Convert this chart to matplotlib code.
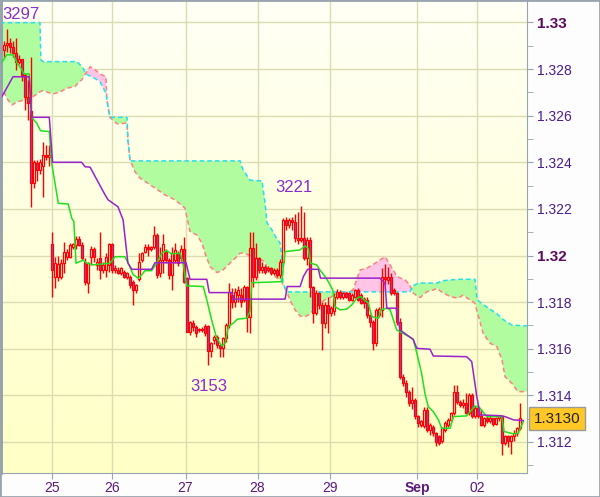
import numpy as np
import matplotlib.pyplot as plt
from matplotlib.colors import LinearSegmentedColormap
from matplotlib.patches import Rectangle

# hourly candles, values in pips above 1.3000
opens = [288.2, 290.3, 291.1, 289.5, 286.8, 283, 284.3, 277.5, 268, 262,
         231, 239.6, 236.7, 238.2, 243.2, 242.4, 205, 190.7, 191, 191,
         196.7, 199.5, 199.5, 203.8, 204.6, 207.1, 204.6, 197.4, 188.1, 199.5,
         202.7, 196, 198.8, 193.8, 193.8, 196, 205, 193.8, 193.8, 192.7,
         193.1, 191, 191, 188.8, 185.2, 189.8, 198.1, 201.7, 203.8, 202.7,
         203.8, 208.8, 192.4, 198.1, 201.7, 198.1, 191.7, 198.1, 201, 198.8,
         202.7, 190.3, 167.4, 171.2, 169.5, 168.4, 168.1, 169.8, 169.8, 159,
         163.8, 165.2, 161.6, 160.2, 164.5, 170.2, 183, 180, 183, 183.1,
         181, 186.7, 173.8, 203.1, 191, 198.8, 193.8, 195.2, 193.8, 194.5,
         192.4, 193.8, 191.7, 197.4, 215.3, 213.1, 215.3, 214.5, 207.4, 206.7,
         207.4, 198.8, 206.5, 186.7, 175.5, 183.8, 178.8, 171, 178.8, 175.2,
         176, 182.4, 184.5, 182.4, 183.8, 183.8, 181, 182.4, 185, 183,
         181.5, 181, 174.5, 171.6, 162.4, 174.5, 176.7, 191, 189.5, 191,
         185, 183.8, 171.6, 148, 145.5, 141.6, 136.8, 138.2, 131, 127.5,
         127, 133.8, 125.2, 126.6, 123.8, 122.4, 120.3, 125.2, 127.3, 129.5,
         132.4, 141.6, 137.3, 135.9, 136.7, 132.4, 140.2, 131, 134.5, 131,
         127.3, 130.2, 128.8, 130.2, 127.8, 130.2, 131, 119.5, 122.4, 120.3,
         122.4, 123.8, 125.9]
highs = [292.2, 297.1, 293.2, 292, 293.2, 286, 284.5, 278.5, 275.3, 285.3,
         241, 241, 241.5, 248.9, 247.4, 247.4, 210, 199.5, 200, 198.5,
         206, 203, 205.3, 205.5, 208.4, 208.4, 206, 198.8, 197.4, 204,
         203.5, 198.8, 210, 197.4, 201, 205.3, 205.3, 196, 195, 195,
         194, 193, 191.5, 189.5, 188, 201, 201.7, 205, 205, 204.3,
         212.7, 209.5, 203.8, 209.3, 203, 199, 203.8, 205.5, 202, 204.6,
         208.1, 191, 172, 172.5, 170, 169, 169.5, 170.5, 170.2, 163,
         166, 166, 162, 165, 171, 188.1, 186, 186, 187, 186,
         187.5, 187, 210.2, 210, 205.3, 199.5, 197.4, 196, 195.5, 195.2,
         194.5, 194.5, 198.5, 216, 216.7, 216, 216.7, 218, 218.8, 221.3,
         218.8, 208, 208, 187, 185, 184.5, 180, 180, 182.4, 178.5,
         183.8, 185.5, 185.2, 184.5, 184.5, 184.5, 184, 185.8, 186, 184,
         182, 182, 175, 172.5, 177.5, 178, 194.5, 196.5, 195, 192.4,
         186, 184.5, 173, 149, 146.5, 142.5, 143.8, 139, 131.5, 129.5,
         135, 135, 128, 127.5, 124.5, 123, 126.5, 128.8, 130.5, 133,
         144.5, 144.5, 138, 138.5, 140.9, 141, 141, 135.5, 135.9, 134,
         130.8, 131, 131, 130.5, 130.8, 131.7, 131.5, 123.1, 123.1, 123.1,
         125.2, 126.6, 136.7]
lows = [285.1, 287.5, 286.8, 285.3, 279.6, 282, 275, 262.5, 258.2, 221,
        229, 232, 235, 225.3, 241, 238.2, 182.4, 186, 189, 190,
        192.4, 198, 198.8, 203, 203, 204, 198, 187.4, 183.8, 196,
        197.4, 193.8, 189.8, 192.4, 191, 193, 192.7, 192.7, 192, 191.5,
        190.5, 190, 186, 178.8, 184, 189, 197.4, 201, 200, 202,
        203, 190.5, 190.7, 192.4, 197, 190, 185.2, 197, 195.5, 197.5,
        188.1, 167, 166, 167.5, 165.2, 167.4, 167, 165.5, 153, 156.6,
        162, 160.5, 156.6, 156.5, 163, 169, 177.4, 178, 180, 178,
        180, 167.4, 166.7, 186.7, 189.5, 192.4, 192.4, 192, 193, 191.7,
        191.7, 191, 190.5, 196.7, 211, 212, 211, 206, 205, 206,
        198, 196, 182.4, 171, 174.5, 177, 159.5, 169, 166.7, 174,
        174.5, 181.5, 181.5, 181.5, 181.8, 180.5, 180.5, 181.8, 180.5, 179,
        177.5, 173, 169.5, 159.5, 161, 173.5, 173.8, 187.5, 188, 183,
        183, 170, 147, 144, 139.5, 135.5, 134, 130, 126.6, 126.6,
        126, 124.5, 123, 122.4, 118.1, 118.5, 119.5, 124.5, 126.6, 129,
        131.5, 136.5, 135, 134.8, 132, 131.5, 130.5, 130.5, 130.2, 126.8,
        126.6, 128, 128, 127, 127.3, 128.8, 114.4, 118.5, 118, 115,
        120.3, 122.4, 125.2]
closes = [290.3, 291.1, 289.5, 286.8, 283, 284.3, 277.5, 268, 265.3, 231,
          240.3, 236.7, 240.3, 243.2, 242.2, 243.2, 193.8, 196.7, 196.5, 196.7,
          201.7, 201.7, 204.6, 205, 207.1, 204.6, 198.8, 188.8, 196.7, 202.7,
          199.5, 197.4, 193.8, 196, 199.5, 205, 193.8, 194.5, 192.7, 194.5,
          191, 192.4, 187.4, 185.2, 187.4, 197.4, 201, 203.8, 202.7, 203.8,
          208.8, 191.7, 198, 205, 198.1, 191.7, 201, 202.4, 196.7, 202.7,
          188.8, 167.4, 171.6, 169.5, 166.7, 168.1, 168.4, 166.7, 159.2, 162.4,
          165.2, 161.6, 160.2, 164.5, 170.2, 184.5, 180, 184.5, 185.2, 180.2,
          186.7, 173.8, 203.1, 191, 198.8, 193.8, 195.2, 193.1, 194.5, 192.4,
          193.8, 191.7, 197.4, 215.3, 213, 215.3, 214.5, 207.4, 206.7, 207.4,
          198.8, 206.5, 186.7, 175.5, 183.8, 178.8, 171, 178.8, 175.2, 177.5,
          182.4, 184.5, 182.4, 183.8, 182.4, 181, 183, 185, 181, 179.5,
          179.5, 174.5, 171.6, 162.4, 176.7, 177, 191, 190, 191, 183.8,
          183.8, 171.6, 148, 145.5, 141.6, 136.8, 138.2, 131, 128, 128.8,
          133.8, 125.2, 127.3, 123.8, 120, 119.5, 125.9, 128.1, 129.5, 132.4,
          141.6, 137.3, 135.9, 136.7, 132.4, 140.2, 131, 134.5, 131, 127.3,
          130.2, 128.8, 130.2, 127.8, 130.2, 131, 119.5, 122.4, 120.3, 122.4,
          123.8, 125.9, 130.2]

# tenkan / kijun vertices (candle index, pips)
tenkan_x = [-1.3, 0.9, 3.1, 4.4, 5.6, 6.7, 8.4, 9.2, 10.9, 12.2,
            15.1, 15.9, 17, 18.1, 21.4, 22.6, 23.3, 24, 25.3, 26.4,
            27.6, 29.8, 35.3, 37, 40.3, 41.4, 43.1, 44.8, 45.9, 47,
            49.2, 50.9, 52.6, 54.2, 55.9, 58.7, 59.6, 60.9, 66.4, 67.6,
            69.2, 70.9, 72.6, 73.7, 74.8, 76.4, 77.8, 80.9, 82, 82.6,
            84, 92.6, 93.7, 98.7, 100.3, 101.4, 102.2, 104.2, 105.3, 107,
            108.1, 109.6, 110.3, 112, 114.2, 115.9, 117.6, 118.9, 120, 121.4,
            122.6, 124.8, 125.6, 127.6, 128.7, 130.9, 135.3, 136.4, 137.6, 139.2,
            140.3, 141.4, 143.1, 144.8, 145.9, 148.7, 149.8, 154.2, 155.9, 157,
            158.7, 160.9, 165.9, 166.7, 169.8, 171.4, 173.1]
tenkan_v = [281.8, 286.1, 286.1, 282.5, 280.4, 277.9, 277.9, 259.3, 256.8, 253.5,
            253.2, 239.6, 231, 222.4, 222.1, 216, 214.5, 196.7, 197.4, 198.1,
            196.7, 196, 196.7, 199.5, 199.5, 196.7, 191.7, 190.3, 191.7, 193.5,
            193.5, 196.7, 201, 202.1, 200.7, 201, 197.4, 187, 186.7, 181,
            172.4, 164.5, 161.2, 162.4, 169.5, 171, 172.7, 173.1, 176, 188.4,
            188.4, 188.8, 201.7, 202.4, 204.1, 203.1, 196.7, 196, 193.8, 191,
            188.8, 185.2, 178.1, 176.7, 177, 178.8, 181.7, 182.4, 181, 179.8,
            173.8, 173.1, 176.7, 177.4, 176.7, 168.1, 165, 164.1, 158.1, 149.5,
            140.9, 135.2, 133, 129.5, 125.9, 125.9, 130.9, 131.2, 133.8, 135.5,
            134.5, 130.9, 130.9, 124.5, 123.5, 123.8, 128.7]
kijun_x = [-1.3, 3, 8.4, 9.2, 15.1, 16.2, 25.9, 27, 28.7, 33.7,
           34.7, 38, 39.7, 41.3, 42.6, 49.2, 50.3, 60.7, 62, 67.6,
           68.4, 75.9, 76.4, 93.7, 94.4, 98.7, 99.8, 101.2, 104.8, 105.5,
           125.3, 127, 127.6, 130.7, 132, 135.3, 136.4, 137.6, 142, 143.1,
           154.2, 155.9, 157.6, 158.7, 165.3, 167, 169.8, 173.1]
kijun_v = [266.8, 276.7, 276.7, 259.3, 259.3, 240, 240, 238.1, 237.9, 226,
           223.9, 220.9, 215.3, 196.8, 194.1, 194.1, 196.9, 196.9, 189.8, 189.8,
           184.1, 184.1, 181.3, 181.3, 186.7, 186.7, 191, 194.1, 194.1, 190.3,
           190.3, 188.1, 177.4, 177.4, 168.1, 165, 164, 160.2, 159.8, 156.9,
           156.6, 154.5, 139.5, 131.6, 131.3, 130.9, 129.5, 129.2]

# cloud: senkou span A (cyan) and span B (salmon)
cloud_x = [-1.3, -0.3, 1.3, 2.7, 4.3, 7, 9.7, 12, 12.3, 13,
           16.3, 18.7, 21, 23.7, 24.3, 26, 27, 27.3, 28.7, 30.3,
           32, 34, 34.3, 35.3, 37.7, 41, 41.3, 42, 43.7, 45.3,
           50.3, 53.7, 57, 60.3, 62, 64.3, 66, 67, 68.7, 71,
           73, 75.3, 77, 78.7, 79.7, 82, 83, 86, 87, 87.7,
           89.3, 90.3, 92, 92.7, 93, 94.3, 95.3, 97, 98.7, 100.3,
           102, 104.7, 107, 109.7, 112, 114.3, 116.3, 118.7, 121, 123.7,
           125.3, 127, 128.7, 131, 133.7, 135.3, 136.3, 138, 138.7, 141,
           143, 144.3, 146.3, 148.7, 151.3, 153, 155.3, 157, 157.7, 159.7,
           162, 164.3, 166, 167, 169.3, 171.3, 174.3]
span_a = [299.9, 299.9, 299.9, 299.9, 299.9, 299.9, 299.9, 299.9, 283.9, 283.2,
          283.2, 283.2, 283.2, 283.2, 283.2, 281, 278.8, 277.9, 277, 276,
          274.6, 269.6, 266.8, 259.3, 259.3, 259.3, 249.6, 240.6, 240.6, 240.6,
          240.6, 240.6, 240.6, 240.6, 240.6, 240.6, 240.6, 240.6, 240.6, 240.6,
          240.6, 240.6, 240.6, 240.6, 236.7, 232.4, 232.2, 232, 222.6, 214,
          211, 208.5, 205.4, 198.1, 188.1, 184.4, 184.4, 184.4, 184.4, 184.4,
          184.4, 184.4, 184.4, 184.4, 184.4, 184.4, 184.4, 184.4, 184.4, 184.4,
          184.4, 184.4, 184.4, 184.4, 184.4, 184.4, 187, 188.1, 188.2, 188.2,
          188.2, 188.2, 189.2, 189.5, 189.8, 189.8, 189.8, 189.8, 181, 179,
          177, 175, 173, 172, 170.2, 170, 169.8]
span_b = [273.2, 271, 266.8, 264.6, 265.9, 266.8, 268.2, 270.2, 270.5, 270.7,
          269.3, 270.2, 271.8, 272.5, 273.5, 275.5, 277.8, 278.2, 281, 279.8,
          277.9, 276.7, 266.8, 259.3, 256.5, 256.8, 250, 241, 235.9, 233.3,
          229, 226, 223.9, 220.4, 210.3, 208.8, 205.3, 201, 195.2, 192.7,
          193.8, 196.7, 198.8, 201, 201.1, 200, 199, 198.1, 197, 194.7,
          192.5, 191, 189.5, 188.5, 187.4, 184.4, 181, 176.7, 174.1, 173.7,
          174.9, 178.8, 181, 182.7, 183.5, 184.2, 185.2, 193.8, 194.6, 196.7,
          198.1, 199.5, 196, 191, 189.5, 187.4, 184, 182.4, 182, 184.5,
          185.2, 185.9, 184, 182.4, 181.7, 183, 181, 179.5, 176, 166.7,
          162.4, 160.9, 155.2, 148, 145.2, 141.6, 141.6]

day_pos = [16.1, 36, 60.5, 84.5, 108.5, 137.8, 157.7]
day_labels = ['25', '26', '27', '28', '29', 'Sep', '02']
notes = [('3297', -0.4, 303.2, 'left'), ('3221', 96.6, 229.0, 'center'),
         ('3153', 68.4, 143.6, 'center')]
last_price = 1.3130


def px(v):
    return 1.3 + np.asarray(v, dtype=float) / 10000.0


plt.rcParams['font.family'] = ['Liberation Sans', 'DejaVu Sans']

fig = plt.figure(figsize=(6.0, 4.97), dpi=100, facecolor='#fdfdfd')
ax = fig.add_axes([1 / 600, 24 / 497, 526 / 600, 472 / 497])
xmin, xmax = -1.0, 174.33
ymin, ymax = 1.31067, 1.33092
ax.set_xlim(xmin, xmax)
ax.set_ylim(ymin, ymax)

# background gradient
grad = np.linspace(1, 0, 256).reshape(-1, 1)
bg = LinearSegmentedColormap.from_list('bg', ['#ffffc6', '#fffff6'])
ax.imshow(grad, extent=[xmin, xmax, ymin, ymax], aspect='auto', cmap=bg,
          zorder=0, origin='upper')

# grid
for y in np.arange(1.312, 1.3301, 0.002):
    ax.axhline(y, color='#dcdcb2', lw=1.0, zorder=1)
for x in day_pos:
    ax.axvline(x, color='#dcdcb2', lw=1.0, zorder=1)

# cloud
cx = np.array(cloud_x)
a = px(span_a)
b = px(span_b)
ax.fill_between(cx, a, b, where=a >= b, interpolate=True, color='#b2fca0', lw=0, zorder=2)
ax.fill_between(cx, a, b, where=a < b, interpolate=True, color='#ffc4e6', lw=0, zorder=2)
ax.plot(cx, b, color='#ff8080', lw=1.1, dashes=(3, 2), zorder=3)
ax.plot(cx, a, color='#22e0f0', lw=1.1, dashes=(3, 2), zorder=3)

# candles
o = px(opens)
h = px(highs)
l = px(lows)
c = px(closes)
idx = np.arange(len(opens))
top = np.maximum(o, c)
bot = np.minimum(o, c)
ax.vlines(idx, top, h, color='#ff0000', lw=1.0, zorder=4)
ax.vlines(idx, l, bot, color='#ff0000', lw=1.0, zorder=4)
w = 0.72
for i in idx:
    fc = '#8a4fc8' if c[i] < o[i] else 'none'
    height = max(top[i] - bot[i], 0.000005)
    ax.add_patch(Rectangle((i - w / 2, bot[i]), w, height, facecolor=fc,
                           edgecolor='#ff0000', lw=0.9, zorder=5))

# tenkan / kijun
ax.plot(tenkan_x, px(tenkan_v), color='#1ee01e', lw=1.1, zorder=6)
ax.plot(kijun_x, px(kijun_v), color='#9a22cc', lw=1.1, zorder=6)

# extreme labels
for txt, x, y, ha in notes:
    ax.text(x, px(y), txt, color='#8b2bd0', fontsize=12, ha=ha, va='center', zorder=7)

# axes styling
ax.spines['top'].set_visible(False)
ax.spines['left'].set_color('#8d9aa5')
ax.spines['left'].set_linewidth(2)
ax.spines['right'].set_color('#98a4ae')
ax.spines['bottom'].set_color('#98a4ae')

ax.yaxis.tick_right()
yt = np.round(np.arange(1.312, 1.3301, 0.002), 3)
ax.set_yticks(yt)
ax.set_yticks(np.round(np.arange(1.311, 1.3301, 0.001), 3), minor=True)
labels = []
for y in yt:
    s = f'{y:.3f}'
    if s.endswith('0'):
        s = s[:-1]
    labels.append(s)
ax.set_yticklabels(labels)
for t, y in zip(ax.get_yticklabels(), yt):
    if abs(y - 1.32) < 1e-6 or abs(y - 1.33) < 1e-6:
        t.set_fontweight('bold')
        t.set_color('#5c0a5c')
        t.set_fontsize(11)
    else:
        t.set_color('#4a1c8c')
        t.set_fontsize(10)
ax.tick_params(axis='y', which='both', direction='out', length=4,
               color='#98a4ae', pad=3)

ax.set_xticks(day_pos)
ax.set_xticklabels(day_labels)
for t, s in zip(ax.get_xticklabels(), day_labels):
    t.set_color('#5c1a7a')
    t.set_fontsize(10)
    if s == 'Sep':
        t.set_fontweight('bold')
ax.tick_params(axis='x', direction='out', length=4, color='#98a4ae', pad=2)

# last price box
ax.text(1.0 + 7 / 526, last_price, '1.3130', transform=ax.get_yaxis_transform(),
        fontsize=11, color='#222222', va='center', ha='left',
        bbox=dict(boxstyle='square,pad=0.3', facecolor='#ffc825',
                  edgecolor='#9a9a9a', lw=1), clip_on=False, zorder=8)

# outer border
fig.patches.append(Rectangle((0, 0), 1, 1, transform=fig.transFigure,
                             fill=False, edgecolor='#98a4ae', lw=2))

fig.savefig('out.png', dpi=100)
